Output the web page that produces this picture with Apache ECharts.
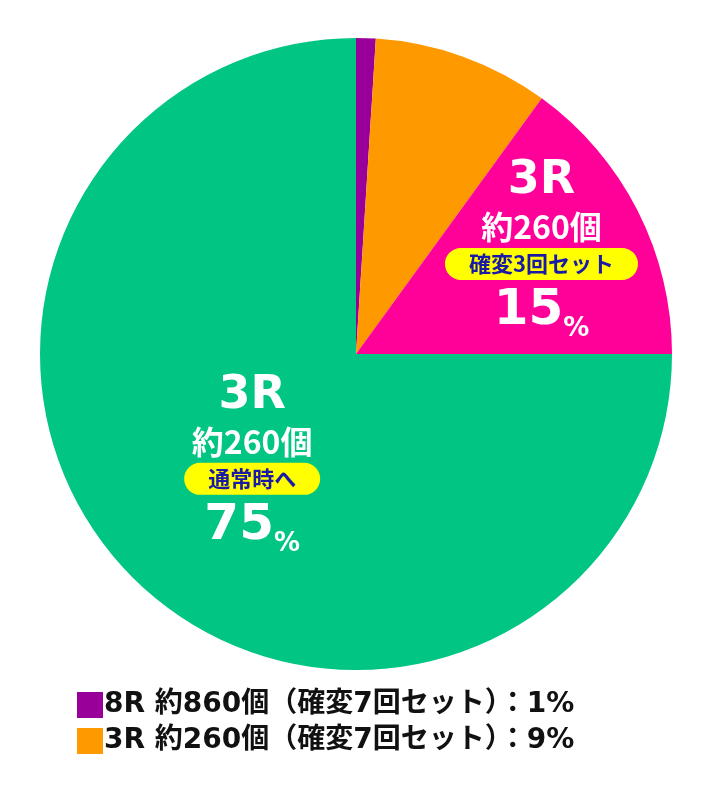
<!DOCTYPE html>
<html><head><meta charset="utf-8">
<script src="https://cdn.jsdelivr.net/npm/echarts@6/dist/echarts.min.js"></script>
<style>html,body{margin:0;background:#fff}#c{width:712px;height:806px}</style></head>
<body><div id="c"></div>
<script>
const names = ['8R 約860個(確変7回セット)', '3R 約260個(確変7回セット)', '3R 約260個(確変3回セット)', '3R 約260個(通常時へ)'];
const values = [1, 9, 15, 75];
const colors = ['#990099', '#ff9900', '#ff0099', '#00c583'];
const rounds = ['3R'.replace('3','8'), '3R', '3R', '3R'];
const counts = ['約860個', '約260個', '約260個', '約260個'];
const tags = ['確変7回セット', '確変7回セット', '確変3回セット', '通常時へ'];
const legendNames = [names[0], names[1]];
const legendText = ['8R 約860個（確変7回セット）：1%', '3R 約260個（確変7回セット）：9%'];
const F = '"Noto Sans CJK JP", sans-serif';
const FL = '"DejaVu Sans", "Noto Sans CJK JP", sans-serif';
const rich = {
  r: {color:'#fff', fontSize:46, fontWeight:'bold', fontFamily:FL, lineHeight:50},
  c: {color:'#fff', fontSize:32, fontWeight:'bold', fontFamily:F, lineHeight:42},
  t: {color:'#1a1aa6', fontSize:22, fontWeight:'bold', fontFamily:F, backgroundColor:'#ffff00', borderRadius:20, padding:[5,24,5,24]},
  p: {color:'#fff', fontSize:50, fontWeight:'bold', fontFamily:FL, lineHeight:62},
  s: {color:'#fff', fontSize:26, fontWeight:'bold', fontFamily:FL, lineHeight:62, verticalAlign:'bottom'}
};
const offsets = [null, null, [42, -32], [10, -4]];
const data = names.map((n, i) => {
  const d = {name:n, value:values[i], itemStyle:{color:colors[i]}};
  if (offsets[i]) {
    d.label = {show:true, position:'inside', offset:offsets[i],
      formatter:'{r|' + rounds[i] + '}\n{c|' + counts[i] + '}\n{t|' + tags[i] + '}\n{p|' + values[i] + '}{s|%}', rich:rich};
  } else d.label = {show:false};
  return d;
});
const chart = echarts.init(document.getElementById('c'));
chart.setOption({
  animation:false,
  legend:{orient:'vertical', left:72, top:686, itemWidth:26, itemHeight:26, itemGap:8, icon:'rect',
    data:legendNames, selectedMode:false,
    formatter: n => legendText[legendNames.indexOf(n)],
    textStyle:{fontSize:28, fontWeight:'bold', color:'#111', fontFamily:FL, padding:[0,0,0,-4]}},
  series:[{type:'pie', center:[356,354], radius:[0,316], startAngle:90, clockwise:true,
    labelLine:{show:false}, emphasis:{disabled:true}, data:data}]
});
</script></body></html>
